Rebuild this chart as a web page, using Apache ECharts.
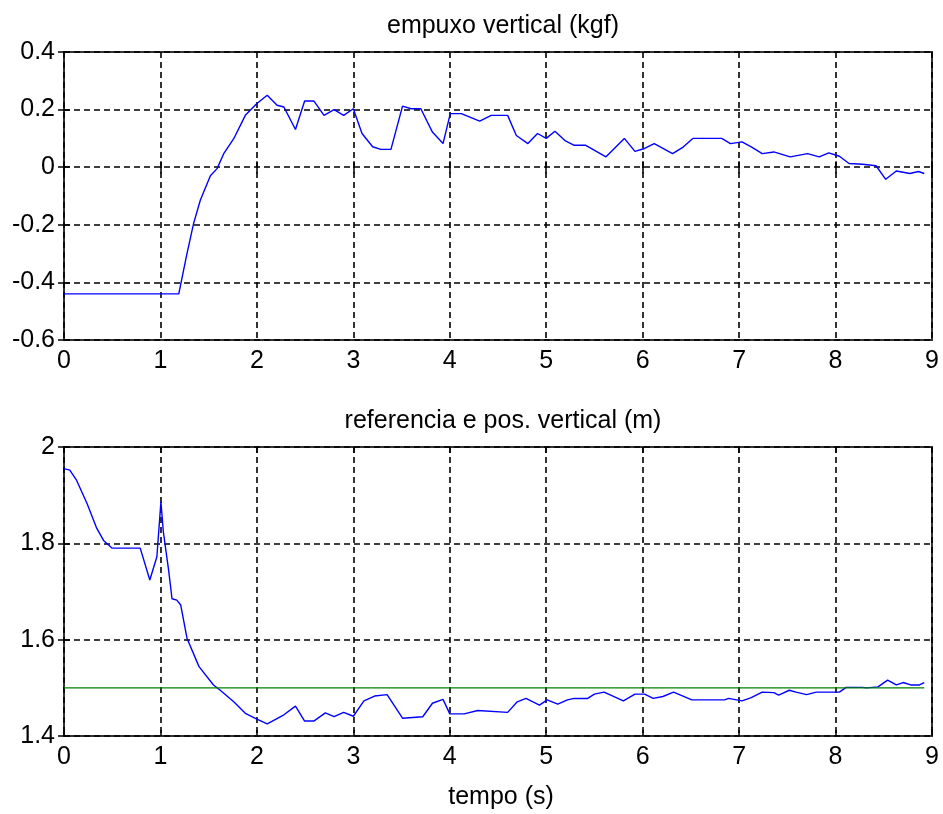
<!DOCTYPE html>
<html>
<head>
<meta charset="utf-8">
<script src="https://cdn.jsdelivr.net/npm/echarts@6/dist/echarts.min.js"></script>
<style>html,body{margin:0;padding:0;background:#fff;}#c{width:943px;height:814px;}</style>
</head>
<body>
<div id="c"></div>
<script>
const xTicks = [0,1,2,3,4,5,6,7,8,9];
const yTicksTop = [-0.6,-0.4,-0.2,0,0.2,0.4];
const yTicksBottom = [1.4,1.6,1.8,2];

const empuxoT = [0,1.19,1.275,1.344,1.414,1.518,1.587,1.656,1.76,1.88,2.0,2.107,2.21,2.28,2.40,2.495,2.59,2.696,2.8,2.9,3.0,3.09,3.2,3.285,3.39,3.51,3.6,3.70,3.82,3.93,4.005,4.12,4.31,4.43,4.60,4.69,4.81,4.91,5.0,5.09,5.2,5.29,5.41,5.62,5.81,5.92,6.02,6.12,6.31,6.42,6.52,6.82,6.91,7.03,7.13,7.24,7.36,7.53,7.71,7.83,7.93,8.04,8.14,8.28,8.42,8.52,8.63,8.77,8.86,8.92];
const empuxoV = [-0.44,-0.44,-0.30,-0.195,-0.114,-0.03,-0.005,0.047,0.099,0.18,0.221,0.250,0.215,0.209,0.131,0.23,0.23,0.18,0.2,0.18,0.203,0.117,0.071,0.062,0.062,0.212,0.203,0.203,0.122,0.082,0.186,0.186,0.16,0.18,0.18,0.11,0.082,0.117,0.1,0.125,0.091,0.076,0.076,0.036,0.10,0.055,0.065,0.082,0.047,0.07,0.10,0.10,0.082,0.088,0.07,0.047,0.053,0.036,0.047,0.036,0.05,0.038,0.013,0.01,0.005,-0.042,-0.013,-0.022,-0.015,-0.022];

const posT = [0,0.06,0.13,0.24,0.34,0.41,0.50,0.79,0.89,0.963,1.005,1.03,1.085,1.12,1.17,1.21,1.275,1.4,1.55,1.62,1.76,1.88,2.0,2.107,2.28,2.4,2.495,2.59,2.71,2.8,2.9,3.0,3.11,3.22,3.35,3.51,3.72,3.82,3.93,4.0,4.15,4.29,4.60,4.70,4.79,4.93,5.01,5.12,5.22,5.29,5.43,5.5,5.6,5.8,5.92,6.02,6.11,6.21,6.32,6.51,6.85,6.89,7.03,7.12,7.24,7.36,7.41,7.52,7.59,7.7,7.8,8.04,8.11,8.28,8.32,8.44,8.54,8.63,8.7,8.78,8.87,8.92];
const posV = [1.955,1.952,1.931,1.882,1.831,1.806,1.79,1.79,1.724,1.772,1.886,1.824,1.744,1.685,1.682,1.672,1.603,1.544,1.506,1.495,1.471,1.447,1.435,1.425,1.444,1.462,1.431,1.431,1.448,1.44,1.449,1.441,1.473,1.483,1.486,1.437,1.44,1.468,1.476,1.446,1.446,1.453,1.449,1.471,1.478,1.464,1.475,1.466,1.475,1.478,1.478,1.487,1.491,1.473,1.487,1.487,1.478,1.482,1.491,1.475,1.475,1.478,1.473,1.479,1.491,1.49,1.485,1.495,1.491,1.486,1.491,1.491,1.501,1.501,1.5,1.502,1.516,1.506,1.511,1.506,1.506,1.511];

const refT = [0, 8.92];
const refV = [1.5, 1.5];

const FONT = "'Liberation Sans', Arial, sans-serif";
const FS = 25;
const zip = (a, b) => a.map((v, i) => [v, b[i]]);
const GRIDLINE = {color: '#000', type: [6, 4], width: 1.6};
const TICK = {show: true, inside: true, length: 6, lineStyle: {color: '#000', width: 1.5}};

function mainX(gi) {
  return {
    type: 'value', gridIndex: gi, min: xTicks[0], max: xTicks[xTicks.length-1], interval: 1,
    axisLine: {show: false}, axisTick: TICK,
    axisLabel: {show: true, color: '#000', fontSize: FS, fontFamily: FONT, margin: 9},
    splitLine: {show: true, lineStyle: GRIDLINE}
  };
}
function topX(gi) {
  return {
    type: 'value', gridIndex: gi, position: 'top', min: xTicks[0], max: xTicks[xTicks.length-1], interval: 1,
    axisLine: {show: false}, axisTick: TICK,
    axisLabel: {show: false}, splitLine: {show: false}
  };
}
function mainY(gi, mn, mx, iv, show) {
  return {
    type: 'value', gridIndex: gi, min: mn, max: mx, interval: iv, position: show ? 'left' : 'right',
    axisLine: {show: false}, axisTick: TICK,
    axisLabel: {show: show, color: '#000', fontSize: FS, fontFamily: FONT, margin: 9,
      formatter: v => String(Math.round(v * 10) / 10)},
    splitLine: {show: show, lineStyle: GRIDLINE}
  };
}

const chart = echarts.init(document.getElementById('c'), null, {renderer: 'canvas'});
chart.setOption({
  backgroundColor: '#fff',
  animation: false,
  title: [
    {text: 'empuxo vertical (kgf)', left: 498, top: 9, textAlign: 'center',
      textStyle: {fontSize: FS, fontWeight: 'normal', color: '#000', fontFamily: FONT}},
    {text: 'referencia e pos. vertical (m)', left: 498, top: 404, textAlign: 'center',
      textStyle: {fontSize: FS, fontWeight: 'normal', color: '#000', fontFamily: FONT}},
    {text: 'tempo (s)', left: 496, top: 780, textAlign: 'center',
      textStyle: {fontSize: FS, fontWeight: 'normal', color: '#000', fontFamily: FONT}}
  ],
  grid: [
    {left: 64, top: 52, width: 868, height: 288, show: true, borderColor: '#333', borderWidth: 2, backgroundColor: '#fff'},
    {left: 64, top: 447, width: 868, height: 289, show: true, borderColor: '#333', borderWidth: 2, backgroundColor: '#fff'}
  ],
  xAxis: [mainX(0), topX(0), mainX(1), topX(1)],
  yAxis: [
    mainY(0, yTicksTop[0], yTicksTop[yTicksTop.length-1], 0.2, true),
    mainY(0, yTicksTop[0], yTicksTop[yTicksTop.length-1], 0.2, false),
    mainY(1, yTicksBottom[0], yTicksBottom[yTicksBottom.length-1], 0.2, true),
    mainY(1, yTicksBottom[0], yTicksBottom[yTicksBottom.length-1], 0.2, false)
  ],
  series: [
    {type: 'line', xAxisIndex: 0, yAxisIndex: 0, data: zip(empuxoT, empuxoV), showSymbol: false,
      lineStyle: {color: '#0000ff', width: 1.4}, itemStyle: {color: '#0000ff'}},
    {type: 'line', xAxisIndex: 2, yAxisIndex: 2, data: zip(posT, posV), showSymbol: false,
      lineStyle: {color: '#0000ff', width: 1.4}, itemStyle: {color: '#0000ff'}},
    {type: 'line', xAxisIndex: 2, yAxisIndex: 2, data: zip(refT, refV), showSymbol: false,
      lineStyle: {color: '#008000', width: 1.4}, itemStyle: {color: '#008000'}}
  ]
});
</script>
</body>
</html>
